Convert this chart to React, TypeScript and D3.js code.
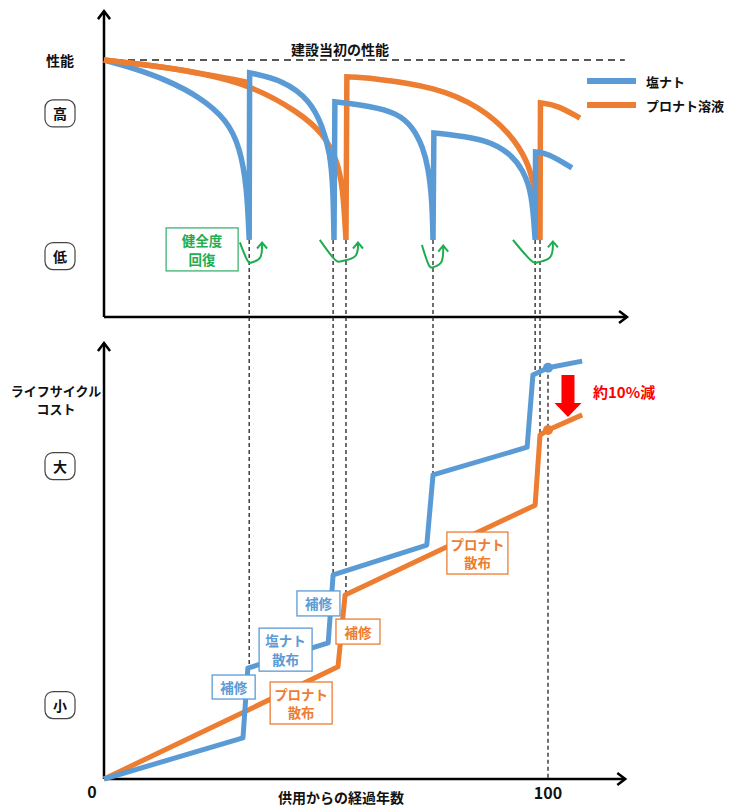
import React, { useRef, useEffect } from 'react';
import * as d3 from 'd3';

// performance curves: [year, performance]
const bluePerf: [number, number][] = [
  [0, 100], [6.5, 96.9], [14.2, 92.2], [21.6, 85.6], [27.7, 76.7], [30.6, 66.1], [32.2, 50.6], [32.7, 30],
  [32.8, 95], [40.3, 92.2], [46.4, 84.4], [49.3, 73.9], [50.9, 63.8], [51.6, 50.6], [51.8, 30],
  [52.0, 83.7], [59.9, 82.1], [66, 79.4], [69.6, 73.9], [71.8, 66.1], [73, 58.4], [73.9, 45.5], [74.1, 30],
  [74.3, 71.6], [78.6, 70.8], [86.3, 68.9], [91.4, 63.8], [94.4, 57.2], [96.4, 48.2], [97.1, 30],
  [97.2, 64.2], [99.8, 63.8], [105.4, 58],
];
const orangePerf: [number, number][] = [
  [0, 100], [14.2, 97.3], [32.2, 91.4], [44.1, 79.4], [49.3, 71.6], [52.5, 61.1], [53.8, 50.6], [54.5, 30],
  [54.7, 93.4], [59.9, 93.1], [75, 89.5], [84.7, 81.7], [91.4, 71.6], [95.3, 61.1], [97.1, 50.6], [98.2, 30],
  [98.3, 83.3], [102, 82.5], [107.2, 77.4],
];

// life cycle cost: [year, cost]
const blueCost: [number, number][] = [
  [0, 0], [31.3, 9.8], [32.4, 26.4], [50.5, 32.4], [51.6, 48.6], [72.7, 55.7], [74.1, 72.4],
  [95.3, 79], [96.6, 96.2], [100, 97.9], [107.7, 99.5],
];
const orangeCost: [number, number][] = [
  [0, 0], [52.7, 26.7], [54.3, 43.8], [97.1, 65.2], [98.2, 81.9], [100, 83.1], [107.7, 86.7],
];

// repair timings (dashed guides from performance drop to cost step)
const repairYears = [32.7, 51.6, 54.5, 74.1, 97.1, 98.2];
const repairCosts = [26.4, 48.6, 43.8, 72.4, 96.2, 81.9];
const dropPerf = 30;

const markerYear = 100;
const markerCosts = [97.9, 83.1];

// green "recovery" arrows: start, bottom, end  [year, perf]
const recoveryArrows: [number, number][][] = [
  [[30.6, 29], [33.3, 21.4], [35.6, 28.6]],
  [[48.6, 30], [53.2, 21.8], [57.2, 28.6]],
  [[71.6, 28], [74.1, 19.5], [76.4, 27.4]],
  [[92.1, 30], [97.5, 21.4], [101.1, 29]],
];

const costLabels = [
  { lines: ['補修'], year: 29.2, cost: 21.9, w: 43, h: 24, color: '#5b9bd5' },
  { lines: ['塩ナト', '散布'], year: 40.9, cost: 30.8, w: 53, h: 43, color: '#5b9bd5' },
  { lines: ['補修'], year: 48.3, cost: 41.8, w: 43, h: 25, color: '#5b9bd5' },
  { lines: ['補修'], year: 57.2, cost: 35.1, w: 44, h: 25, color: '#ed7d31' },
  { lines: ['プロナト', '散布'], year: 44.4, cost: 18.1, w: 62, h: 42, color: '#ed7d31' },
  { lines: ['プロナト', '散布'], year: 84.1, cost: 53.8, w: 61, h: 42, color: '#ed7d31' },
];

const legendItems = [
  { name: '塩ナト', color: '#5b9bd5' },
  { name: 'プロナト溶液', color: '#ed7d31' },
];

const BLUE = '#5b9bd5';
const ORANGE = '#ed7d31';
const GREEN = '#1fad52';
const FONT = '"Noto Sans CJK JP", "Noto Sans", sans-serif';

const App: React.FC = () => {
  const svgRef = useRef<SVGSVGElement>(null);

  useEffect(() => {
    if (!svgRef.current) return;
    const svg = d3.select(svgRef.current);
    svg.selectAll('*').remove();

    const x = d3.scaleLinear().domain([0, 100]).range([104, 548]);
    const yP = d3.scaleLinear().domain([0, 100]).range([317, 60]);
    const yC = d3.scaleLinear().domain([0, 100]).range([779, 359]);

    const txt = (g: any, s: string, tx: number, ty: number, size: number, color = '#111', anchor = 'middle') =>
      g.append('text')
        .attr('x', tx).attr('y', ty)
        .attr('text-anchor', anchor)
        .attr('dominant-baseline', 'central')
        .attr('font-family', FONT)
        .attr('font-weight', 'bold')
        .attr('font-size', size)
        .attr('fill', color)
        .text(s);

    // Axes with open arrowheads
    const axis = (x1: number, y1: number, x2: number, y2: number) => {
      svg.append('line').attr('x1', x1).attr('y1', y1).attr('x2', x2).attr('y2', y2)
        .attr('stroke', '#000').attr('stroke-width', 2.5);
      const a = Math.atan2(y2 - y1, x2 - x1);
      const l = 10, s = 0.65;
      const p = `M${x2 - l * Math.cos(a - s)},${y2 - l * Math.sin(a - s)}L${x2},${y2}L${x2 - l * Math.cos(a + s)},${y2 - l * Math.sin(a + s)}`;
      svg.append('path').attr('d', p).attr('fill', 'none').attr('stroke', '#000').attr('stroke-width', 2.5);
    };
    axis(x(0), yP(0), x(0), yP(119));
    axis(x(0), yP(0), x(117.8), yP(0));
    axis(x(0), yC(0), x(0), yC(103.8));
    axis(x(0), yC(0), x(117.4), yC(0));

    // Initial performance reference
    svg.append('line')
      .attr('x1', x(0)).attr('x2', x(117.3))
      .attr('y1', yP(100)).attr('y2', yP(100))
      .attr('stroke', '#222').attr('stroke-width', 1.6).attr('stroke-dasharray', '7,5');
    txt(svg, '建設当初の性能', 340, 49, 14);

    // Dashed guides
    repairYears.forEach((yr, i) => {
      svg.append('line')
        .attr('x1', x(yr)).attr('x2', x(yr))
        .attr('y1', yP(dropPerf)).attr('y2', yC(repairCosts[i]))
        .attr('stroke', '#222').attr('stroke-width', 1.3).attr('stroke-dasharray', '4,3');
    });
    svg.append('line')
      .attr('x1', x(markerYear)).attr('x2', x(markerYear))
      .attr('y1', yC(markerCosts[0])).attr('y2', yC(0))
      .attr('stroke', '#222').attr('stroke-width', 1.3).attr('stroke-dasharray', '4,3');

    // Performance curves: smooth segments joined by vertical jumps
    const segLine = d3.line<[number, number]>().x(d => x(d[0])).y(d => yP(d[1])).curve(d3.curveBasis);
    const perfPath = (data: [number, number][]) => {
      const segs: [number, number][][] = [[]];
      data.forEach((d, i) => {
        if (i > 0 && d[1] > data[i - 1][1]) segs.push([]);
        segs[segs.length - 1].push(d);
      });
      return segs.map((s, i) => {
        const p = segLine(s) || '';
        return i === 0 ? p : 'L' + p.slice(1);
      }).join('');
    };
    [[orangePerf, ORANGE], [bluePerf, BLUE]].forEach(([data, color]) => {
      svg.append('path')
        .attr('d', perfPath(data as [number, number][]))
        .attr('fill', 'none').attr('stroke', color as string)
        .attr('stroke-width', 5.5).attr('stroke-linejoin', 'miter');
    });
    // orange sits above blue near the start
    svg.append('path')
      .attr('d', segLine(orangePerf.slice(0, 3)) || '')
      .attr('fill', 'none').attr('stroke', ORANGE).attr('stroke-width', 5.5);

    // Recovery arrows
    const arrowLine = d3.line<[number, number]>().x(d => x(d[0])).y(d => yP(d[1])).curve(d3.curveBasis);
    recoveryArrows.forEach(pts => {
      const full: [number, number][] = [pts[0], [pts[1][0] - 0.8, pts[1][1] - 1], pts[1], [pts[2][0], pts[1][1] + 1], pts[2]];
      svg.append('path').attr('d', arrowLine(full) || '')
        .attr('fill', 'none').attr('stroke', GREEN).attr('stroke-width', 2);
      const ex = x(pts[2][0]), ey = yP(pts[2][1]);
      svg.append('path').attr('d', `M${ex - 5},${ey + 5}L${ex},${ey - 1}L${ex + 5},${ey + 5}`)
        .attr('fill', 'none').attr('stroke', GREEN).attr('stroke-width', 2);
    });

    // Recovery label
    const gx = x(22.1), gy = yP(26.3);
    svg.append('rect').attr('x', gx - 36).attr('y', gy - 21.5).attr('width', 72).attr('height', 43)
      .attr('fill', '#fff').attr('stroke', '#3cb371').attr('stroke-width', 1.3);
    txt(svg, '健全度', gx, gy - 9, 13.5, GREEN);
    txt(svg, '回復', gx, gy + 10, 13.5, GREEN);

    // Legend
    legendItems.forEach((d, i) => {
      const ly = 81 + i * 24;
      svg.append('line').attr('x1', 587).attr('x2', 636).attr('y1', ly).attr('y2', ly)
        .attr('stroke', d.color).attr('stroke-width', 6);
      txt(svg, d.name, 646, ly, 13, '#111', 'start');
    });

    // Cost lines
    const costLine = d3.line<[number, number]>().x(d => x(d[0])).y(d => yC(d[1]));
    [[orangeCost, ORANGE], [blueCost, BLUE]].forEach(([data, color]) => {
      svg.append('path')
        .attr('d', costLine(data as [number, number][]) || '')
        .attr('fill', 'none').attr('stroke', color as string)
        .attr('stroke-width', 5).attr('stroke-linejoin', 'round');
    });
    [BLUE, ORANGE].forEach((c, i) => {
      svg.append('circle').attr('cx', x(markerYear)).attr('cy', yC(markerCosts[i])).attr('r', 5).attr('fill', c);
    });

    // Cost labels
    costLabels.forEach(d => {
      const cx = x(d.year), cy = yC(d.cost);
      svg.append('rect').attr('x', cx - d.w / 2).attr('y', cy - d.h / 2)
        .attr('width', d.w).attr('height', d.h)
        .attr('fill', '#fff').attr('stroke', d.color).attr('stroke-width', 1.3);
      d.lines.forEach((s, j) => {
        txt(svg, s, cx, cy + (j - (d.lines.length - 1) / 2) * 18.5, 13.5, d.color);
      });
    });

    // Reduction arrow
    const ax = x(104.5), at = yC(96.2), ab = yC(86.2);
    svg.append('path')
      .attr('d', `M${ax - 6.5},${at}L${ax + 6.5},${at}L${ax + 6.5},${ab - 14}L${ax + 13.5},${ab - 14}L${ax},${ab}L${ax - 13.5},${ab - 14}L${ax - 6.5},${ab - 14}Z`)
      .attr('fill', '#ff0000');
    txt(svg, '約10%減', 593, 391, 15, '#ff0000', 'start');

    // Axis labels
    txt(svg, '性能', 60, 60, 14);
    txt(svg, 'ライフサイクル', 56, 390, 13);
    txt(svg, 'コスト', 56, 408, 13);
    txt(svg, '供用からの経過年数', 341, 797, 14);
    txt(svg, '0', 92, 791, 16);
    txt(svg, '100', x(100), 792, 16);

    // Level badges
    const badges = [
      { s: '高', y: yP(79.2) },
      { s: '低', y: yP(23.7) },
      { s: '大', y: yC(74.5) },
      { s: '小', y: yC(17.6) },
    ];
    badges.forEach(b => {
      svg.append('rect').attr('x', 45).attr('y', b.y - 13.5).attr('width', 30).attr('height', 27).attr('rx', 8)
        .attr('fill', '#fff').attr('stroke', '#444').attr('stroke-width', 1.2);
      txt(svg, b.s, 60, b.y, 14);
    });
  }, []);

  return (
    <svg ref={svgRef} width={740} height={808}
      style={{ position: 'absolute', left: 0, top: 0, background: '#fff' }} />
  );
};

export default App;
